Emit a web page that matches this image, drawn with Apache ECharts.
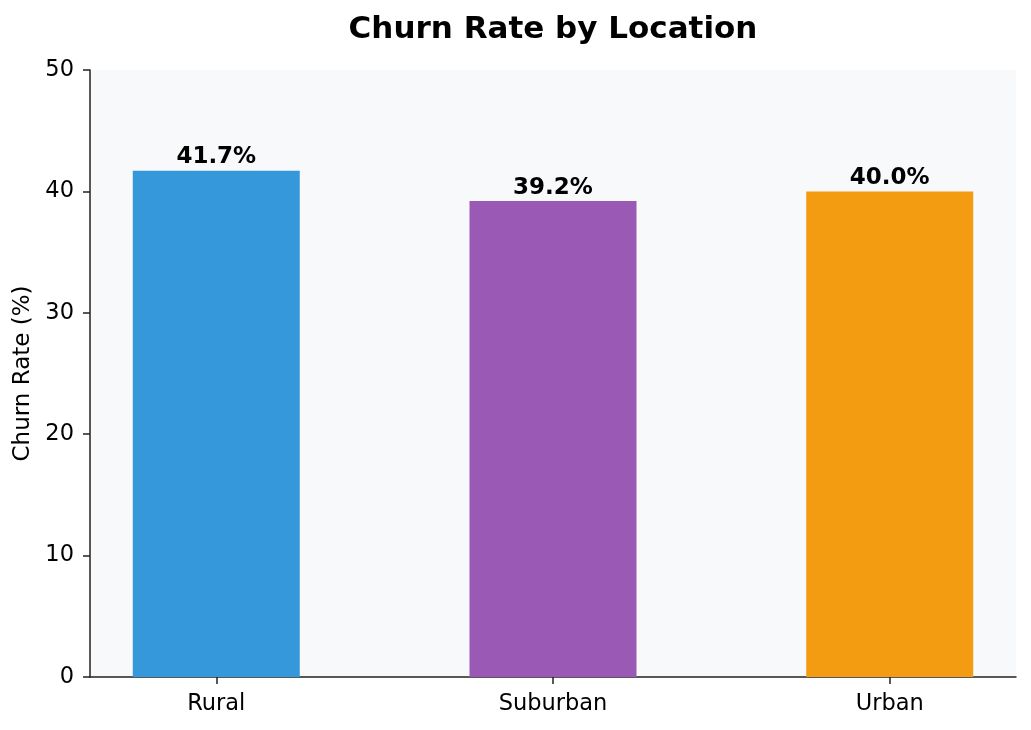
<!DOCTYPE html>
<html>
<head>
<meta charset="utf-8">
<script src="https://cdn.jsdelivr.net/npm/echarts@6/dist/echarts.min.js"></script>
<style>
html,body{margin:0;padding:0;background:#fff;}
#chart{width:1031px;height:730px;}
</style>
</head>
<body>
<div id="chart"></div>
<script>
const categories = ['Rural', 'Suburban', 'Urban'];
const churnRates = [41.7, 39.2, 40.0];
const barColors = ['#3498db', '#9b59b6', '#f39c12'];
const yTicks = [0, 10, 20, 30, 40, 50];

const FONT = 'DejaVu Sans';
const chart = echarts.init(document.getElementById('chart'), null, {renderer: 'canvas'});

chart.setOption({
  backgroundColor: '#ffffff',
  animation: false,
  title: {
    text: 'Churn Rate by Location',
    left: 548, top: 9, textAlign: 'center',
    textStyle: {fontFamily: FONT, fontSize: 31, fontWeight: 'bold', color: '#000'}
  },
  grid: {
    left: 90, right: 15, top: 70, bottom: 53,
    show: true, backgroundColor: '#f8f9fa', borderWidth: 0
  },
  xAxis: {
    type: 'value',
    min: -0.375, max: 2.375,
    splitLine: {show: false},
    axisLine: {show: true, onZero: false, lineStyle: {color: '#222', width: 1.5}},
    axisTick: {show: true, customValues: categories.map((c, i) => i), length: 7, lineStyle: {color: '#222', width: 1.5}},
    axisLabel: {
      customValues: categories.map((c, i) => i),
      formatter: v => categories[Math.round(v)] || '',
      fontFamily: FONT, fontSize: 22.5, color: '#000', margin: 16
    }
  },
  yAxis: {
    type: 'value',
    min: yTicks[0], max: yTicks[yTicks.length - 1], interval: 10,
    name: 'Churn Rate (%)',
    nameLocation: 'middle', nameGap: 55, nameRotate: 90,
    nameTextStyle: {fontFamily: FONT, fontSize: 23, color: '#000'},
    splitLine: {show: false},
    axisLine: {show: true, onZero: false, lineStyle: {color: '#222', width: 1.5}},
    axisTick: {show: true, length: 7, lineStyle: {color: '#222', width: 1.5}},
    axisLabel: {fontFamily: FONT, fontSize: 22.5, color: '#000', margin: 16}
  },
  series: [{
    type: 'bar',
    barWidth: 167,
    data: churnRates.map((v, i) => ({value: [i, v], itemStyle: {color: barColors[i]}})),
    label: {
      show: true, position: 'top', distance: 2,
      formatter: p => p.value[1].toFixed(1) + '%',
      fontFamily: FONT, fontSize: 23, fontWeight: 'bold', color: '#000'
    }
  }]
});
</script>
</body>
</html>
